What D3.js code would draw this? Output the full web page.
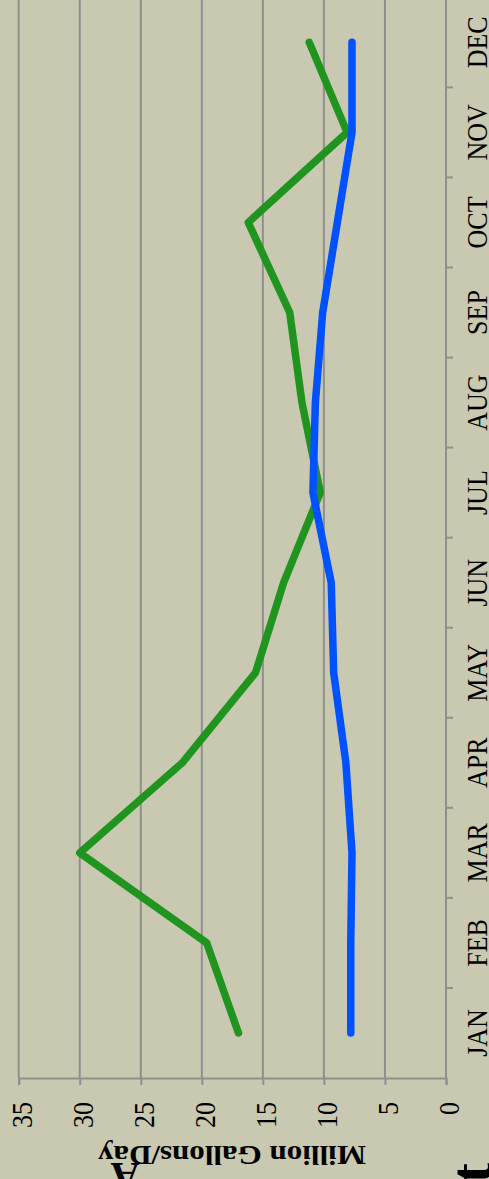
<!DOCTYPE html>
<html>
<head>
<meta charset="utf-8">
<script src="https://cdn.jsdelivr.net/npm/d3@7"></script>
<style>
  html, body { margin: 0; padding: 0; background: #c9c9b1; }
  svg { display: block; }
  text { font-family: "Liberation Serif", "DejaVu Serif", serif; fill: #000; }
</style>
</head>
<body>
<div id="chart"></div>
<script>
// monthly flows, million gallons per day (chart is drawn turned on its side)
const months = ["JAN", "FEB", "MAR", "APR", "MAY", "JUN", "JUL", "AUG", "SEP", "OCT", "NOV", "DEC"];
const greenSeries = [17.0, 19.6, 30.0, 21.6, 15.6, 13.3, 10.3, 11.8, 12.8, 16.2, 8.1, 11.2];
const blueSeries = [7.8, 7.8, 7.7, 8.2, 9.2, 9.4, 10.9, 10.7, 10.1, 8.9, 7.7, 7.7];
const valueTicks = [0, 5, 10, 15, 20, 25, 30, 35];
const axisTitle = "Million Gallons/Day";

const W = 489, H = 1179;
const stretch = 1.15; // glyphs look wider across than along the run

const svg = d3.select("#chart")
    .append("svg")
    .attr("width", W)
    .attr("height", H);

svg.append("rect")
    .attr("width", W)
    .attr("height", H)
    .attr("fill", "#c9c9b1");

// value axis runs right to left, months run bottom to top
const x = d3.scaleLinear()
    .domain([0, 35])
    .range([446, 18.7]);

const y = d3.scaleBand()
    .domain(months)
    .range([1078, -2.7]);

const yMid = d => y(d) + y.bandwidth() / 2;

// gridlines
svg.append("g")
    .selectAll("line")
    .data(valueTicks.slice(1))
    .enter()
    .append("line")
    .attr("x1", d => x(d))
    .attr("x2", d => x(d))
    .attr("y1", y.range()[1])
    .attr("y2", y.range()[0])
    .attr("stroke", "#8f8f8f")
    .attr("stroke-width", 2);

// value axis (bottom)
const xAxis = svg.append("g")
    .attr("transform", `translate(0,${y.range()[0]})`)
    .call(d3.axisBottom(x).tickValues(valueTicks).tickSize(7).tickFormat(""));
xAxis.select(".domain").attr("stroke", "#8f8f8f").attr("stroke-width", 2);
xAxis.selectAll(".tick line").attr("stroke", "#8f8f8f").attr("stroke-width", 2);

svg.append("g")
    .selectAll("text")
    .data(valueTicks)
    .enter()
    .append("text")
    .attr("transform", d => `translate(${x(d) + 13},1102) rotate(-90) scale(1,${stretch})`)
    .attr("text-anchor", "end")
    .attr("font-size", 26)
    .text(d => d);

// category axis (right side)
svg.append("line")
    .attr("x1", x(0)).attr("x2", x(0))
    .attr("y1", y.range()[1]).attr("y2", y.range()[0])
    .attr("stroke", "#8f8f8f")
    .attr("stroke-width", 2);

svg.append("g")
    .selectAll("line")
    .data(months.slice(1))
    .enter()
    .append("line")
    .attr("x1", x(0))
    .attr("x2", x(0) + 7)
    .attr("y1", d => y(d) + y.bandwidth())
    .attr("y2", d => y(d) + y.bandwidth())
    .attr("stroke", "#8f8f8f")
    .attr("stroke-width", 2);

svg.append("g")
    .selectAll("text")
    .data(months)
    .enter()
    .append("text")
    .attr("transform", d => `translate(487,${yMid(d)}) rotate(-90) scale(1,${stretch})`)
    .attr("text-anchor", "middle")
    .attr("font-size", 26)
    .text(d => d);

// axis title, upside down
svg.append("text")
    .attr("transform", `translate(232,1146) rotate(180) scale(${stretch},1)`)
    .attr("text-anchor", "middle")
    .attr("font-size", 27)
    .attr("font-weight", "bold")
    .text(axisTitle);

// cut-off bits of text at the bottom edge
svg.append("text")
    .attr("transform", "translate(125,1163) rotate(180)")
    .attr("text-anchor", "middle")
    .attr("font-size", 40)
    .attr("font-weight", "bold")
    .text("A");
svg.append("text")
    .attr("transform", "translate(491,1183) rotate(-90)")
    .attr("text-anchor", "start")
    .attr("font-size", 60)
    .attr("font-weight", "bold")
    .text("t");

// lines
const line = d3.line()
    .x(d => x(d.v))
    .y(d => yMid(d.m));

const series = [
    { values: greenSeries, color: "#1f9520" },
    { values: blueSeries, color: "#0051ff" }
];

svg.append("g")
    .selectAll("path")
    .data(series)
    .enter()
    .append("path")
    .attr("d", s => line(s.values.map((v, i) => ({ m: months[i], v: v }))))
    .attr("fill", "none")
    .attr("stroke", s => s.color)
    .attr("stroke-width", 7.5)
    .attr("stroke-linecap", "round")
    .attr("stroke-linejoin", "round");
</script>
</body>
</html>
